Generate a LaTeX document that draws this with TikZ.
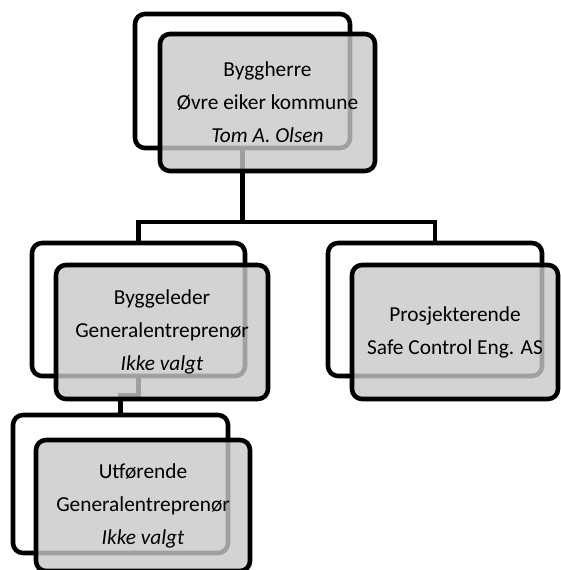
\documentclass[tikz,border=0pt]{standalone}
\usepackage{fontspec}
\setmainfont{Carlito}
\usepackage{tikz}
\usetikzlibrary{positioning}
\definecolor{boxgray}{RGB}{200,200,200}

\begin{document}
\begin{tikzpicture}[x=0.75pt, y=-0.75pt,
  backbox/.style={draw, line width=3.4pt, rounded corners=7.5pt, fill=white,
    inner sep=0pt},
  frontbox/.style={draw, line width=3.4pt, rounded corners=7.5pt,
    fill=boxgray, fill opacity=0.8, text opacity=1, draw opacity=1,
    align=center, inner sep=0pt, minimum height=100.5pt,
    font=\fontsize{16}{24.75}\selectfont},
  link/.style={line width=3.4pt}]
\useasboundingbox (0,0) rectangle (560,570);
% Back frames
\node[backbox, minimum width=161.25pt, minimum height=100.5pt]  (ownerback)      at (242.5,81)    {};
\node[backbox, minimum width=159.75pt, minimum height=99.75pt]  (managerback)    at (138.5,309.5) {};
\node[backbox, minimum width=160.5pt,  minimum height=99.75pt]  (designerback)   at (435,309.5)   {};
\node[backbox, minimum width=161.25pt, minimum height=103.5pt]  (contractorback) at (120.5,484)   {};
% Connectors
\coordinate (split) at (242.5,222);
\coordinate (jog)   at (138.5,395);
\draw[link] (ownerback.south) -- (split) -| (managerback.north);
\draw[link] (split) -| (designerback.north);
\draw[link] (managerback.south) -- (jog) -| (contractorback.north);
% Front boxes
\node[frontbox, minimum width=161.25pt, minimum height=102.75pt] (owner) at (267.5,102.5) {Byggherre\\ Øvre eiker kommune\\ \textit{Tom A. Olsen}};
\node[frontbox, minimum width=159pt]    (manager)    at (162,332)   {Byggeleder\\ Generalentreprenør\\ \textit{Ikke valgt}};
\node[frontbox, minimum width=154.5pt]  (designer)   at (455,332)   {Prosjekterende\\ Safe Control Eng. AS};
\node[frontbox, minimum width=160.5pt, minimum height=98.25pt] (contractor) at (143,505.5) {Utførende\\ Generalentreprenør\\ \textit{Ikke valgt}};
\end{tikzpicture}
\end{document}
